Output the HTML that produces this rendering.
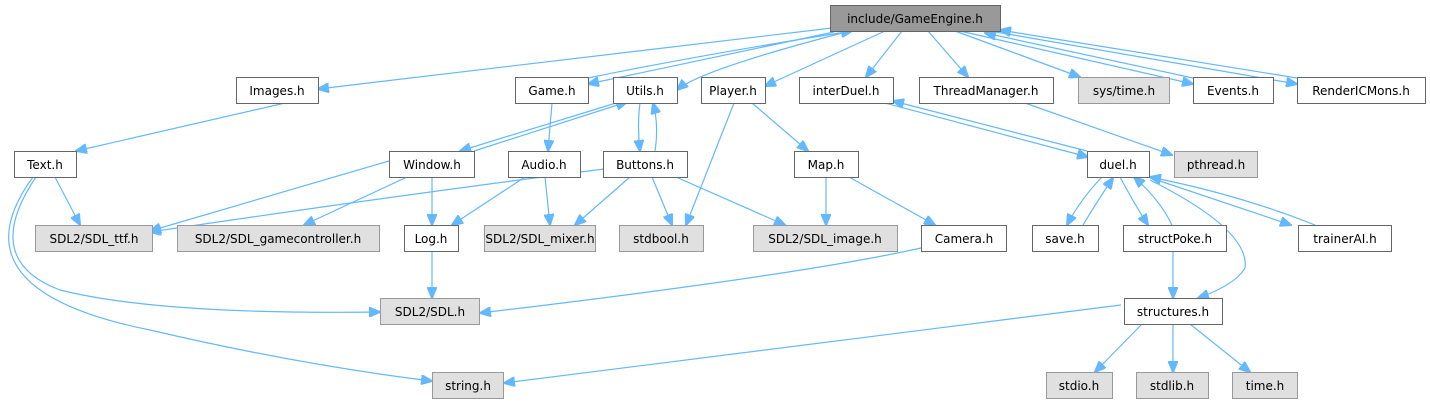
<!DOCTYPE html>
<html><head><meta charset="utf-8"><style>
html,body{margin:0;padding:0;background:#fff;}
svg{display:block;}
text{font-family:"DejaVu Sans",sans-serif;font-size:12px;fill:#000;text-anchor:middle;}
.w{fill:#fff;stroke:#666;stroke-width:1}
.g{fill:#e0e0e0;stroke:#999;stroke-width:1}
.r{fill:#999;stroke:#666;stroke-width:1}
path{fill:none;stroke:#63b8ff;stroke-width:1.2;marker-end:url(#a)}
</style></head><body>
<svg width="1430" height="403" viewBox="0 0 1430 403">
<defs><marker id="a" markerWidth="12" markerHeight="10" refX="11" refY="5" orient="auto" markerUnits="userSpaceOnUse"><path d="M0,0 L12,5 L0,10 Z" style="fill:#63b8ff;stroke:#63b8ff;marker-end:none"/></marker></defs>
<path d="M832,28 L318,89"/>
<path d="M834,32 L588,84"/>
<path d="M588,78 Q700,55 852,31"/>
<path d="M846,32 Q700,70 677,90"/>
<path d="M885,31 L765,86"/>
<path d="M902,31 L866,77"/>
<path d="M928,31 L968,77"/>
<path d="M955,31 L1080,77"/>
<path d="M960,31 L1193,84"/>
<path d="M1193,78 L985,33"/>
<path d="M990,31 L1297,84"/>
<path d="M1297,78 L1000,30"/>
<path d="M285,103 L76,151"/>
<path d="M552,103 L548,151"/>
<path d="M616,103 L460,151"/>
<path d="M474,151 L627,102"/>
<path d="M640,103 Q637,125 640,151"/>
<path d="M655,151 Q659,125 653,103"/>
<path d="M734,103 L686,225"/>
<path d="M752,103 L808,151"/>
<path d="M885,103 L1088,157"/>
<path d="M1087,151 L893,101"/>
<path d="M1025,103 L1172,155"/>
<path d="M55,177 L80,225"/>
<path d="M36,177 Q-20,260 60,290 Q160,315 380,312"/>
<path d="M33,177 Q-50,290 150,330 Q300,365 432,381"/>
<path d="M389,161 L150,231"/>
<path d="M407,177 L304,225"/>
<path d="M432,177 L432,225"/>
<path d="M525,177 L452,225"/>
<path d="M545,177 L550,225"/>
<path d="M604,169 Q400,195 150,232"/>
<path d="M630,177 L575,225"/>
<path d="M652,177 L672,225"/>
<path d="M676,177 L785,225"/>
<path d="M826,177 L826,225"/>
<path d="M849,177 L935,225"/>
<path d="M432,251 L432,298"/>
<path d="M921,248 Q800,275 480,313"/>
<path d="M1102,177 Q1080,200 1067,225"/>
<path d="M1083,225 Q1098,200 1113,178"/>
<path d="M1120,177 Q1135,205 1148,225"/>
<path d="M1172,225 Q1160,200 1134,177"/>
<path d="M1148,177 L1291,225"/>
<path d="M1315,225 Q1240,195 1150,177"/>
<path d="M1150,180 Q1250,230 1245,268 Q1235,285 1198,298"/>
<path d="M1173,251 L1173,298"/>
<path d="M1121,305 L504,383"/>
<path d="M1142,324 L1095,372"/>
<path d="M1173,324 L1173,372"/>
<path d="M1190,324 L1250,372"/>
<rect class="r" x="830.5" y="5.5" width="170" height="26"/><text x="915" y="23">include/GameEngine.h</text>
<rect class="w" x="236.5" y="77.5" width="82" height="26"/><text x="277" y="95">Images.h</text>
<rect class="w" x="515.5" y="77.5" width="73" height="26"/><text x="552" y="95">Game.h</text>
<rect class="w" x="613.5" y="77.5" width="64" height="26"/><text x="645" y="95">Utils.h</text>
<rect class="w" x="701.5" y="77.5" width="64" height="26"/><text x="733" y="95">Player.h</text>
<rect class="w" x="799.5" y="77.5" width="94" height="26"/><text x="846" y="95">interDuel.h</text>
<rect class="w" x="919.5" y="77.5" width="134" height="26"/><text x="986" y="95">ThreadManager.h</text>
<rect class="g" x="1078.5" y="77.5" width="91" height="26"/><text x="1124" y="95">sys/time.h</text>
<rect class="w" x="1193.5" y="77.5" width="80" height="26"/><text x="1233" y="95">Events.h</text>
<rect class="w" x="1297.5" y="77.5" width="128" height="26"/><text x="1361" y="95">RenderICMons.h</text>
<rect class="w" x="14.5" y="151.5" width="62" height="26"/><text x="45" y="169">Text.h</text>
<rect class="w" x="389.5" y="151.5" width="85" height="26"/><text x="432" y="169">Window.h</text>
<rect class="w" x="508.5" y="151.5" width="72" height="26"/><text x="544" y="169">Audio.h</text>
<rect class="w" x="603.5" y="151.5" width="84" height="26"/><text x="645" y="169">Buttons.h</text>
<rect class="w" x="794.5" y="151.5" width="64" height="26"/><text x="826" y="169">Map.h</text>
<rect class="w" x="1087.5" y="151.5" width="62" height="26"/><text x="1118" y="169">duel.h</text>
<rect class="g" x="1174.5" y="151.5" width="83" height="26"/><text x="1216" y="169">pthread.h</text>
<rect class="g" x="35.5" y="225.5" width="117" height="26"/><text x="94" y="243">SDL2/SDL_ttf.h</text>
<rect class="g" x="177.5" y="225.5" width="202" height="26"/><text x="278" y="243">SDL2/SDL_gamecontroller.h</text>
<rect class="w" x="404.5" y="225.5" width="54" height="26"/><text x="431" y="243">Log.h</text>
<rect class="g" x="484.5" y="225.5" width="111" height="26"/><text x="540" y="243">SDL2/SDL_mixer.h</text>
<rect class="g" x="619.5" y="225.5" width="84" height="26"/><text x="661" y="243">stdbool.h</text>
<rect class="g" x="753.5" y="225.5" width="144" height="26"/><text x="825" y="243">SDL2/SDL_image.h</text>
<rect class="w" x="921.5" y="225.5" width="85" height="26"/><text x="964" y="243">Camera.h</text>
<rect class="w" x="1032.5" y="225.5" width="66" height="26"/><text x="1065" y="243">save.h</text>
<rect class="w" x="1123.5" y="225.5" width="103" height="26"/><text x="1175" y="243">structPoke.h</text>
<rect class="w" x="1298.5" y="225.5" width="93" height="26"/><text x="1345" y="243">trainerAI.h</text>
<rect class="g" x="380.5" y="298.5" width="99" height="26"/><text x="430" y="316">SDL2/SDL.h</text>
<rect class="w" x="1124.5" y="298.5" width="98" height="26"/><text x="1173" y="316">structures.h</text>
<rect class="g" x="432.5" y="372.5" width="71" height="26"/><text x="468" y="390">string.h</text>
<rect class="g" x="1046.5" y="372.5" width="66" height="26"/><text x="1079" y="390">stdio.h</text>
<rect class="g" x="1136.5" y="372.5" width="72" height="26"/><text x="1172" y="390">stdlib.h</text>
<rect class="g" x="1232.5" y="372.5" width="65" height="26"/><text x="1265" y="390">time.h</text>
</svg>
</body></html>
